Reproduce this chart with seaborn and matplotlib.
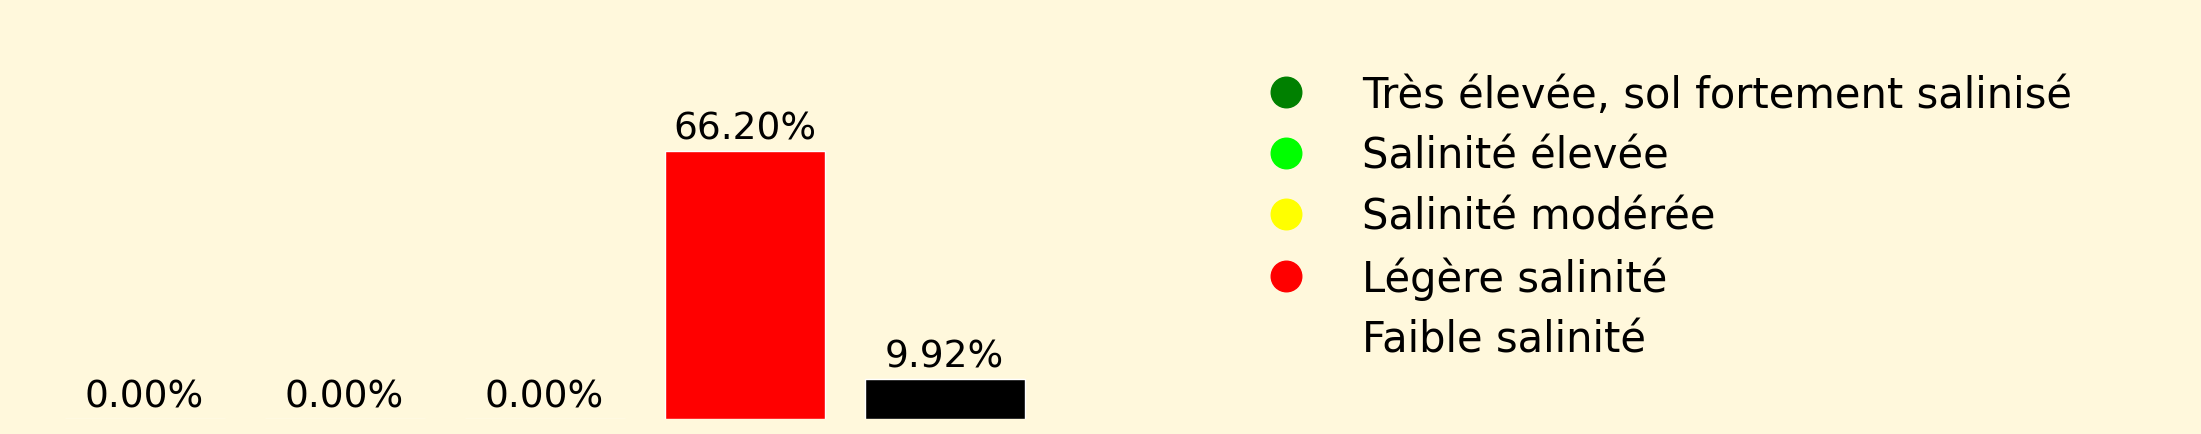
import matplotlib
matplotlib.use("Agg")
import matplotlib.pyplot as plt
from matplotlib.lines import Line2D
import seaborn as sns
import pandas as pd

# Data
categories = ["Très élevée, sol fortement salinisé", "Salinité élevée",
              "Salinité modérée", "Légère salinité", "Faible salinité"]
percentages = [0.00, 0.00, 0.00, 66.20, 9.92]
bar_colors = ["#008000", "#00ff00", "#ffff00", "#ff0000", "#000000"]
legend_colors = ["#008000", "#00ff00", "#ffff00", "#ff0000", "#fff8dc"]

bg = "#fff8dc"
sns.set_style("white")
plt.rcParams["font.family"] = ["DejaVu Sans"]
plt.rcParams["text.color"] = "black"

df = pd.DataFrame({"classe": categories, "pct": percentages})

fig = plt.figure(figsize=(22.01, 4.35), dpi=100, facecolor=bg)
ax = fig.add_axes([44.6 / 2201, 15 / 435, 1000 / 2201, 324 / 435])
ax.set_facecolor(bg)

sns.barplot(data=df, x="classe", y="pct", hue="classe", palette=bar_colors,
            width=0.8, legend=False, ax=ax, saturation=1)
ax.set_xlim(-0.5, 4.5)
ax.set_ylim(0, 80)

# percentage labels above bars
for cont in ax.containers:
    ax.bar_label(cont, fmt="%.2f%%", fontsize=27, padding=3, color="black")

ax.axis("off")

# Legend
handles = [Line2D([0], [0], marker="o", linestyle="", markersize=22,
                  markerfacecolor=c, markeredgecolor=c) for c in legend_colors]
fig.legend(handles, categories, loc="upper left",
           bbox_to_anchor=(1244 / 2201, 1 - 75 / 435), frameon=False,
           fontsize=30, handletextpad=0.83, labelspacing=0.45, borderaxespad=0,
           borderpad=0)

fig.savefig("out.png", dpi=100, facecolor=bg)
